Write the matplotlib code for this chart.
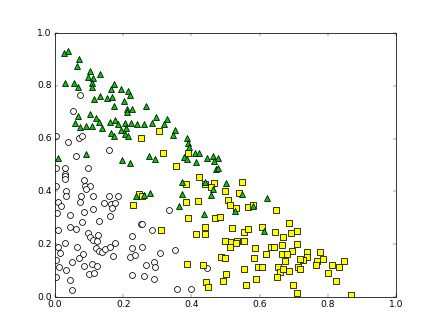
import matplotlib
matplotlib.use('Agg')
import matplotlib.pyplot as plt

# class 0: open circles
circ_x = [0.072, 0.053, 0.002, 0.070, 0.080, 0.039, 0.157, 0.063, 0.004, 0.029,
          0.096, 0.028, 0.029, 0.028, 0.086, 0.004, 0.033, 0.088, 0.102, 0.092,
          0.112, 0.075, 0.031, 0.157, 0.186, 0.008, 0.018, 0.072, 0.145, 0.163,
          0.176, 0.166, 0.110, 0.334, 0.006, 0.043, 0.084, 0.161, 0.129, 0.078,
          0.008, 0.045, 0.063, 0.096, 0.104, 0.127, 0.112, 0.122, 0.028, 0.008,
          0.014, 0.065, 0.119, 0.129, 0.137, 0.147, 0.161, 0.176, 0.082, 0.069,
          0.051, 0.170, 0.004, 0.012, 0.031, 0.086, 0.108, 0.122, 0.100, 0.114,
          0.002, 0.045, 0.049, 0.225, 0.252, 0.255, 0.284, 0.225, 0.254, 0.219,
          0.235, 0.309, 0.268, 0.290, 0.292, 0.227, 0.260, 0.290, 0.353, 0.447,
          0.359, 0.400]
circ_y = [0.765, 0.704, 0.609, 0.604, 0.611, 0.586, 0.558, 0.535, 0.487, 0.487,
          0.487, 0.467, 0.457, 0.447, 0.442, 0.421, 0.401, 0.421, 0.419, 0.409,
          0.383, 0.383, 0.381, 0.381, 0.383, 0.361, 0.345, 0.358, 0.356, 0.351,
          0.356, 0.337, 0.332, 0.331, 0.320, 0.310, 0.323, 0.308, 0.287, 0.285,
          0.252, 0.265, 0.257, 0.242, 0.227, 0.234, 0.216, 0.211, 0.204, 0.189,
          0.166, 0.189, 0.184, 0.174, 0.171, 0.181, 0.189, 0.204, 0.161, 0.146,
          0.133, 0.156, 0.140, 0.115, 0.103, 0.118, 0.125, 0.118, 0.087, 0.090,
          0.077, 0.065, 0.027, 0.232, 0.277, 0.277, 0.254, 0.186, 0.189, 0.151,
          0.158, 0.166, 0.120, 0.133, 0.113, 0.082, 0.080, 0.070, 0.178, 0.108,
          0.029, 0.029]

# class 1: yellow squares
sq_x = [0.305, 0.252, 0.317, 0.245, 0.254, 0.229, 0.390, 0.355, 0.422, 0.383,
        0.439, 0.465, 0.457, 0.547, 0.498, 0.539, 0.385, 0.420, 0.506, 0.512,
        0.531, 0.566, 0.580, 0.649, 0.311, 0.390, 0.469, 0.484, 0.439, 0.439,
        0.414, 0.520, 0.553, 0.566, 0.608, 0.645, 0.668, 0.498, 0.516, 0.535,
        0.555, 0.531, 0.514, 0.586, 0.618, 0.633, 0.641, 0.666, 0.665, 0.488,
        0.498, 0.584, 0.387, 0.434, 0.555, 0.596, 0.608, 0.655, 0.659, 0.651,
        0.502, 0.590, 0.492, 0.443, 0.449, 0.561, 0.687, 0.691, 0.710, 0.710,
        0.695, 0.681, 0.738, 0.740, 0.728, 0.719, 0.674, 0.777, 0.787, 0.767,
        0.765, 0.714, 0.719, 0.669, 0.687, 0.812, 0.832, 0.847, 0.802, 0.823,
        0.699, 0.710, 0.869]
sq_y = [0.629, 0.601, 0.546, 0.391, 0.383, 0.347, 0.546, 0.495, 0.454, 0.427,
        0.427, 0.432, 0.416, 0.434, 0.401, 0.394, 0.358, 0.363, 0.366, 0.350,
        0.336, 0.341, 0.348, 0.331, 0.252, 0.298, 0.298, 0.303, 0.265, 0.239,
        0.237, 0.260, 0.245, 0.257, 0.265, 0.245, 0.229, 0.211, 0.209, 0.214,
        0.214, 0.204, 0.189, 0.184, 0.163, 0.189, 0.189, 0.196, 0.162, 0.151,
        0.146, 0.146, 0.125, 0.120, 0.105, 0.113, 0.113, 0.113, 0.093, 0.077,
        0.087, 0.070, 0.062, 0.057, 0.037, 0.047, 0.282, 0.242, 0.249, 0.199,
        0.176, 0.161, 0.171, 0.151, 0.140, 0.143, 0.136, 0.169, 0.143, 0.138,
        0.120, 0.115, 0.105, 0.105, 0.098, 0.120, 0.115, 0.136, 0.090, 0.060,
        0.047, 0.014, 0.009]

# class 2: green triangles
tri_x = [0.026, 0.037, 0.070, 0.065, 0.102, 0.131, 0.096, 0.112, 0.108, 0.108,
         0.028, 0.055, 0.067, 0.172, 0.163, 0.194, 0.215, 0.219, 0.114, 0.133,
         0.153, 0.166, 0.202, 0.172, 0.210, 0.225, 0.211, 0.266, 0.067, 0.102,
         0.120, 0.176, 0.296, 0.328, 0.129, 0.059, 0.072, 0.090, 0.108, 0.139,
         0.161, 0.184, 0.204, 0.223, 0.241, 0.260, 0.284, 0.321, 0.164, 0.172,
         0.194, 0.208, 0.205, 0.215, 0.010, 0.090, 0.196, 0.219, 0.276, 0.292,
         0.237, 0.262, 0.278, 0.351, 0.345, 0.387, 0.389, 0.394, 0.377, 0.387,
         0.412, 0.422, 0.414, 0.447, 0.463, 0.477, 0.465, 0.473, 0.477, 0.371,
         0.439, 0.501, 0.463, 0.457, 0.371, 0.549, 0.623, 0.363, 0.582, 0.436,
         0.527, 0.612]
tri_y = [0.926, 0.932, 0.901, 0.876, 0.856, 0.846, 0.833, 0.828, 0.812, 0.795,
         0.812, 0.810, 0.797, 0.808, 0.787, 0.787, 0.782, 0.765, 0.749, 0.762,
         0.754, 0.757, 0.742, 0.724, 0.714, 0.711, 0.701, 0.724, 0.685, 0.692,
         0.679, 0.672, 0.680, 0.673, 0.664, 0.659, 0.644, 0.649, 0.647, 0.639,
         0.664, 0.657, 0.659, 0.659, 0.655, 0.657, 0.659, 0.654, 0.621, 0.609,
         0.632, 0.642, 0.617, 0.609, 0.525, 0.541, 0.520, 0.508, 0.535, 0.523,
         0.383, 0.386, 0.394, 0.634, 0.614, 0.604, 0.584, 0.568, 0.530, 0.523,
         0.546, 0.546, 0.513, 0.528, 0.533, 0.525, 0.515, 0.485, 0.487, 0.437,
         0.437, 0.430, 0.409, 0.386, 0.391, 0.391, 0.376, 0.346, 0.344, 0.313,
         0.325, 0.249]

ticks = [0.0, 0.2, 0.4, 0.6, 0.8, 1.0]

plt.style.use('classic')
fig = plt.figure(figsize=(8, 6), dpi=55)
ax = fig.add_subplot(111)

ax.scatter(circ_x, circ_y, s=60, marker='o', facecolors='white', edgecolors='black', linewidths=1)
ax.scatter(sq_x, sq_y, s=60, marker='s', facecolors='#ffff00', edgecolors='black', linewidths=1)
ax.scatter(tri_x, tri_y, s=60, marker='^', facecolors='#00cc00', edgecolors='black', linewidths=1)

ax.set_xlim(0, 1)
ax.set_ylim(0, 1)
ax.set_xticks(ticks)
ax.set_yticks(ticks)

fig.savefig('out.png', dpi=55)
